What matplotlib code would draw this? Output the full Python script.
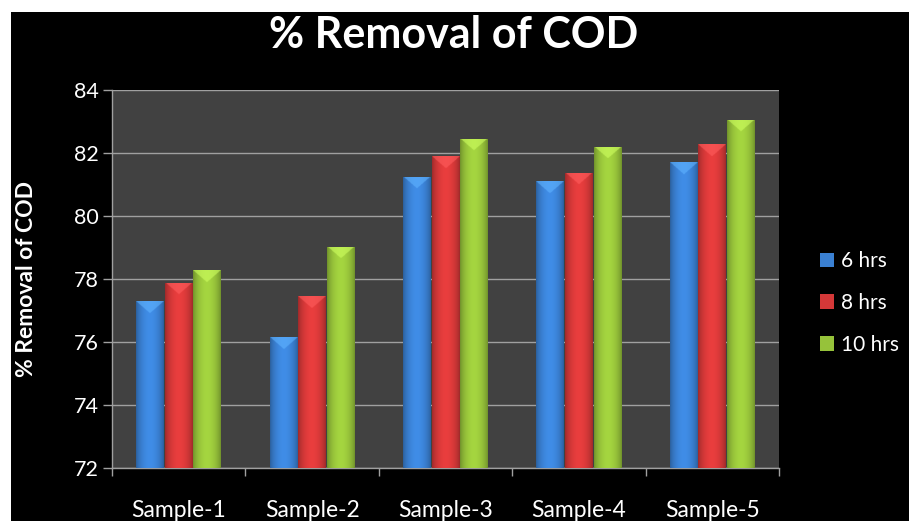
import numpy as np
import matplotlib
matplotlib.use('Agg')
import matplotlib.pyplot as plt
from matplotlib.patches import Rectangle, Patch
from matplotlib.colors import to_rgb

categories = ['Sample-1', 'Sample-2', 'Sample-3', 'Sample-4', 'Sample-5']
series_names = ['6 hrs', '8 hrs', '10 hrs']
hrs6 = [77.30, 76.15, 81.25, 81.10, 81.70]
hrs8 = [77.88, 77.46, 81.89, 81.38, 82.27]
hrs10 = [78.28, 79.03, 82.45, 82.20, 83.05]
y_ticks = [72, 74, 76, 78, 80, 82, 84]
title = '% Removal of COD'
ylabel = '% Removal of COD'

series = [hrs6, hrs8, hrs10]
colors = ['#3a80d2', '#d43838', '#96c23a']

FONT = 'Lato'
plt.rcParams['font.family'] = [FONT, 'DejaVu Sans']

W, H = 909, 521
fig = plt.figure(figsize=(W / 100, H / 100), dpi=100, facecolor='white')
fig.patches.append(Rectangle((11 / W, 0), 1, 1 - 12 / H, transform=fig.transFigure,
                             facecolor='black', edgecolor='none', zorder=-10))

ax = fig.add_axes([112 / W, 1 - 468 / H, (779 - 112) / W, (468 - 90) / H])
ax.set_facecolor('#414141')

ymin, ymax = y_ticks[0], y_ticks[-1]
x = np.arange(len(categories))
bw = 0.215
offsets = [-bw, 0, bw]


def shade_bar(ax, rect, color):
    x0, w = rect.get_x(), rect.get_width()
    y0, h = rect.get_y(), rect.get_height()
    nx, ny = 60, 600
    base = np.array(to_rgb(color))
    t = np.linspace(0, 1, nx)
    prof = 0.74 + 0.36 * np.sin(np.pi * t) ** 0.7
    img = base[None, None, :] * prof[None, :, None] * np.ones((ny, 1, 1))
    yy = np.linspace(y0, y0 + h, ny)
    depth = 0.38 * (1 - np.abs(2 * t - 1))
    mask = (y0 + h - yy[:, None]) < depth[None, :]
    light = np.clip(base * 1.2 + 0.1, 0, 1)
    img[mask] = img[mask] * 0.4 + light * 0.6
    img = np.clip(img, 0, 1)
    im = ax.imshow(img, origin='lower', extent=(x0, x0 + w, y0, y0 + h),
                   aspect='auto', zorder=3, interpolation='bilinear')
    im.set_clip_path(rect)


for vals, off, c in zip(series, offsets, colors):
    bars = ax.bar(x + off, np.array(vals) - ymin, bw * 0.97, bottom=ymin,
                  color=c, zorder=2, linewidth=0)
    for r in bars:
        shade_bar(ax, r, c)

ax.set_xlim(-0.5, len(categories) - 0.5)
ax.set_ylim(ymin, ymax)
ax.set_yticks(y_ticks)
ax.set_yticklabels([str(v) for v in y_ticks])
ax.yaxis.grid(True, color='#a0a0a0', linewidth=1.0, zorder=1)
ax.set_axisbelow(True)

ax.set_xticks(x)
ax.set_xticklabels(categories)
ax.set_xticks(np.arange(-0.5, len(categories)), minor=True)
ax.tick_params(axis='x', which='major', length=0, pad=23, colors='white', labelsize=16.5)
ax.tick_params(axis='x', which='minor', length=6, width=1, color='#a0a0a0', direction='out')
ax.tick_params(axis='y', length=6.5, width=1, color='#a0a0a0', direction='out',
               pad=3, labelcolor='white', labelsize=15.5)

for s in ['top', 'right']:
    ax.spines[s].set_visible(False)
for s in ['left', 'bottom']:
    ax.spines[s].set_color('#a0a0a0')
    ax.spines[s].set_linewidth(1)

fig.text(0.499, 1 - 35 / H, title, color='white', fontsize=31, fontweight='bold',
         ha='center', va='center')
fig.text(27 / W, 1 - 279 / H, ylabel, color='white', fontsize=16.5, fontweight='bold',
         rotation=90, ha='center', va='center')

handles = [Patch(facecolor=c, edgecolor='none', label=n) for c, n in zip(colors, series_names)]
leg = fig.legend(handles=handles, loc='center left', bbox_to_anchor=(801 / W, 1 - 303 / H),
                 frameon=False, fontsize=15, labelcolor='white', handlelength=0.7,
                 handleheight=0.7, handletextpad=0.3, labelspacing=1.05)

fig.savefig('out.png', dpi=100, facecolor=fig.get_facecolor())
